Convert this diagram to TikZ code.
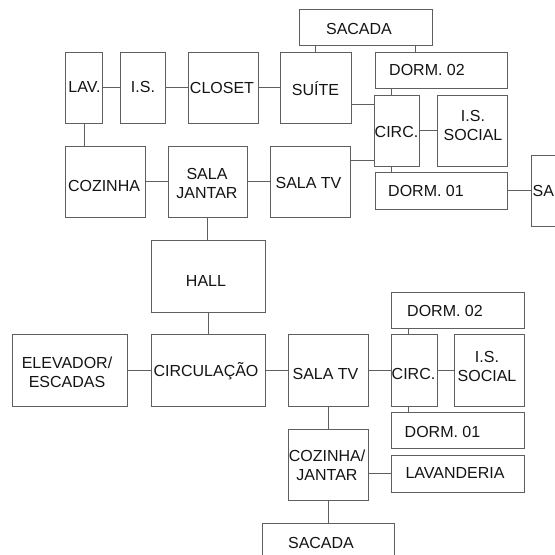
\documentclass[tikz,border=0pt]{standalone}
\usepackage{fontspec}
\setmainfont{Liberation Sans}
\definecolor{linegray}{RGB}{95,95,95}
\definecolor{txt}{RGB}{20,20,20}
\newcommand\roombox[5]{\node[room, minimum width=#4pt, minimum height=#5pt] (#1) at (#2,#3) {};}
\begin{document}
\begin{tikzpicture}[x=1pt,y=-1pt,
  room/.style={draw=linegray, line width=1pt, inner sep=0pt, outer sep=0pt},
  wire/.style={draw=linegray, line width=1pt},
  lbl/.style={inner sep=0pt, text=txt, font=\fontsize{16}{19}\selectfont, text height=11.5pt, text depth=0pt},
  lbltwo/.style={inner sep=0pt, text=txt, font=\fontsize{16}{19}\selectfont, align=center}]
\useasboundingbox (0,0) rectangle (555,555);
\fill[white] (0,0) rectangle (555,555);
\clip (0,0) rectangle (555,555);
% ---------- upper plan ----------
\roombox{lav}{83.5}{87.5}{37}{71}
\roombox{is}{142.5}{87.5}{45}{71}
\roombox{closet}{223}{87.5}{70}{71}
\roombox{suite}{315.5}{87.5}{71}{71}
\roombox{sacadaA}{365.5}{27}{133}{36}
\roombox{dormdoisA}{441}{70}{132}{36}
\roombox{circA}{396.5}{130.5}{45}{71}
\roombox{issA}{472}{130.5}{70}{71}
\roombox{dormumA}{441}{190.5}{132}{37}
\roombox{sacadaR}{565.5}{190.5}{69}{71}
\roombox{cozinha}{105}{181.5}{80}{71}
\roombox{jantar}{207.5}{181.5}{79}{71}
\roombox{tvA}{310}{181.5}{80}{71}
\roombox{hall}{208}{276}{114}{72}
% ---------- lower plan ----------
\roombox{elev}{69.5}{370}{115}{72}
\roombox{circul}{208}{370}{114}{72}
\roombox{tvB}{328}{370}{80}{72}
\roombox{circB}{414}{370}{46}{72}
\roombox{issB}{489}{370}{70}{72}
\roombox{dormdoisB}{457.5}{310}{133}{36}
\roombox{dormumB}{457.5}{430}{133}{36}
\roombox{cozjan}{328}{464.5}{80}{71}
\roombox{lavand}{457.5}{473.5}{133}{37}
\roombox{sacadaB}{328}{561}{132}{76}
% ---------- labels ----------
\node[lbl] (t-lav) at (84.5,87) {LAV.};
\node[lbl] (t-is) at (143,87) {I.S.};
\node[lbl] (t-closet) at (222,88) {CLOSET};
\node[lbl] (t-suite) at (315.5,90) {SUÍTE};
\node[lbl] (t-sacadaA) at (359,29) {SACADA};
\node[lbl] (t-dormdoisA) at (427,70) {DORM. 02};
\node[lbl] (t-circA) at (396.5,132) {CIRC.};
\node[lbltwo] (t-issA) at (473,125) {I.S.\\SOCIAL};
\node[lbl] (t-dormumA) at (426,191) {DORM. 01};
\node[lbl, anchor=west] (t-sacadaR) at (532.5,191) {SA};
\node[lbl] (t-cozinha) at (104,186) {COZINHA};
\node[lbltwo] (t-jantar) at (207,183) {SALA\\JANTAR};
\node[lbl] (t-tvA) at (308.5,183) {SALA TV};
\node[lbl] (t-hall) at (206,281) {HALL};
\node[lbltwo] (t-elev) at (67,372) {ELEVADOR/\\ESCADAS};
\node[lbl] (t-circul) at (206,371) {CIRCULAÇÃO};
\node[lbl] (t-tvB) at (325.5,374) {SALA TV};
\node[lbl] (t-circB) at (413.5,374) {CIRC.};
\node[lbltwo] (t-issB) at (487,366) {I.S.\\SOCIAL};
\node[lbl] (t-dormdoisB) at (445,311) {DORM. 02};
\node[lbl] (t-dormumB) at (442.5,432) {DORM. 01};
\node[lbltwo] (t-cozjan) at (327,465.5) {COZINHA/\\JANTAR};
\node[lbl] (t-lavand) at (455,473) {LAVANDERIA};
\node[lbl] (t-sacadaB) at (321,543) {SACADA};
% ---------- connectors upper ----------
\draw[wire] (lav.east) -- (is.west);
\draw[wire] (is.east) -- (closet.west);
\draw[wire] (closet.east) -- (suite.west);
\draw[wire] ([xshift=0.5pt]lav.south) -- ([xshift=0.5pt]lav.south |- cozinha.north);
\draw[wire] (cozinha.east) -- (jantar.west);
\draw[wire] (jantar.east) -- (tvA.west);
\draw[wire] (jantar.south) -- (jantar.south |- hall.north);
\draw[wire] (suite.north) -- (suite.north |- sacadaA.south);
\draw[wire] ([xshift=-26pt]dormdoisA.north) -- ([xshift=-26pt]dormdoisA.north |- sacadaA.south);
\draw[wire] ([xshift=-5.5pt]circA.north) -- ([xshift=-5.5pt]circA.north |- dormdoisA.south);
\draw[wire] ([xshift=-5.5pt]circA.south) -- ([xshift=-5.5pt]circA.south |- dormumA.north);
\draw[wire] (circA.east) -- (issA.west);
\draw[wire] ([yshift=-16.5pt]suite.east) -- ([yshift=-16.5pt]suite.east -| circA.west);
\draw[wire] ([yshift=21.5pt]tvA.east) -- ([yshift=21.5pt]tvA.east -| circA.west);
\draw[wire] (dormumA.east) -- (dormumA.east -| sacadaR.west);
\draw[wire] (hall.south) -- (circul.north);
% ---------- connectors lower ----------
\draw[wire] (elev.east) -- (circul.west);
\draw[wire] (circul.east) -- (tvB.west);
\draw[wire] (tvB.east) -- (circB.west);
\draw[wire] (circB.east) -- (issB.west);
\draw[wire] ([xshift=-6pt]circB.north) -- ([xshift=-6pt]circB.north |- dormdoisB.south);
\draw[wire] ([xshift=-6pt]circB.south) -- ([xshift=-6pt]circB.south |- dormumB.north);
\draw[wire] (tvB.south) -- (cozjan.north);
\draw[wire] (lavand.west) -- (lavand.west -| cozjan.east);
\draw[wire] (cozjan.south) -- (sacadaB.north);
\end{tikzpicture}
\end{document}
